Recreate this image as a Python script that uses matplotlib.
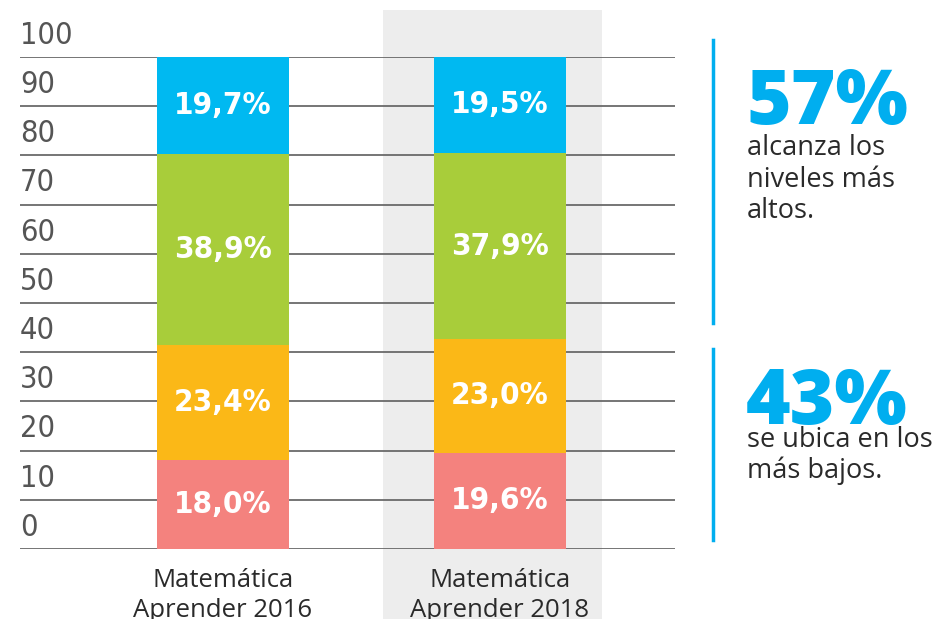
import matplotlib
matplotlib.use('Agg')
import matplotlib.pyplot as plt
from matplotlib.patches import Rectangle
from matplotlib.lines import Line2D

categories = ["Matemática\nAprender 2016", "Matemática\nAprender 2018"]
levels = ["Por debajo del nivel básico", "Básico", "Satisfactorio", "Avanzado"]
vals_2016 = [18.0, 23.4, 38.9, 19.7]
vals_2018 = [19.6, 23.0, 37.9, 19.5]
labels_2016 = ["18,0%", "23,4%", "38,9%", "19,7%"]
labels_2018 = ["19,6%", "23,0%", "37,9%", "19,5%"]
colors = ["#f4827e", "#fbb817", "#a8cd3a", "#00b9f1"]
yticks = list(range(0, 101, 10))
callout_values = ["57%", "43%"]
callout_texts = [["alcanza los", "niveles más", "altos."],
                 ["se ubica en los", "más bajos."]]

W, H = 944, 619
NARROW = ['DejaVu Sans']
SANS = ['Open Sans', 'DejaVu Sans']
BLUE = '#00aeef'

fig = plt.figure(figsize=(W / 100, H / 100), dpi=100)
ax = fig.add_axes([20 / W, 70 / H, 655 / W, 492 / H])
ax.set_facecolor('none')
xmin, xmax = -0.733, 1.632
ax.set_xlim(xmin, xmax)
ax.set_ylim(0, 100)
ax.axis('off')

# highlighted background for 2018
ax.add_patch(Rectangle((0.578, -14.5), 0.79, 124.1, facecolor='#ededed',
                       edgecolor='none', zorder=0, clip_on=False))

# gridlines
ax.hlines(yticks, xmin, xmax, colors='#6a6a6a', linewidth=1.3, zorder=1)
for v in yticks:
    ax.text(xmin, v + 4.4, str(v), ha='left', va='center', fontsize=22,
            family=NARROW, fontstretch='condensed',
            color='#555555', zorder=3)

bw = 0.4765
series = [(vals_2016, labels_2016), (vals_2018, labels_2018)]
for i, (vals, labs) in enumerate(series):
    bottom = 0
    for v, lab, c in zip(vals, labs, colors):
        ax.bar(i, v, bottom=bottom, width=bw, color=c, zorder=2)
        ax.text(i, bottom + v / 2, lab, ha='center', va='center', fontsize=22.5,
                family=NARROW, fontstretch='condensed', weight='bold',
                color='white', zorder=4)
        bottom += v
    lines = categories[i].split('\n')
    for k, ln in enumerate(lines):
        ax.text(i, -7.7 - 6.1 * k, ln, ha='center', va='baseline', fontsize=18.5,
                family=SANS, color='#2a2a2a', clip_on=False)

# right side callouts
fig.add_artist(Line2D([713 / W, 713 / W], [1 - 40 / H, 1 - 323 / H],
                      color=BLUE, linewidth=2.5))
fig.add_artist(Line2D([713 / W, 713 / W], [1 - 349 / H, 1 - 540 / H],
                      color=BLUE, linewidth=2.5))

big_base = [124, 424]
text_base = [[155, 187, 218], [447, 478]]
for val, txt, bb, tb in zip(callout_values, callout_texts, big_base, text_base):
    fig.text(746 / W, 1 - bb / H, val, ha='left', va='baseline', fontsize=55,
             family=SANS, weight='heavy', color=BLUE)
    for ln, y in zip(txt, tb):
        fig.text(747 / W, 1 - y / H, ln, ha='left', va='baseline', fontsize=19.5,
                 family=SANS, color='#2a2a2a')

fig.savefig('out.png', dpi=100)
